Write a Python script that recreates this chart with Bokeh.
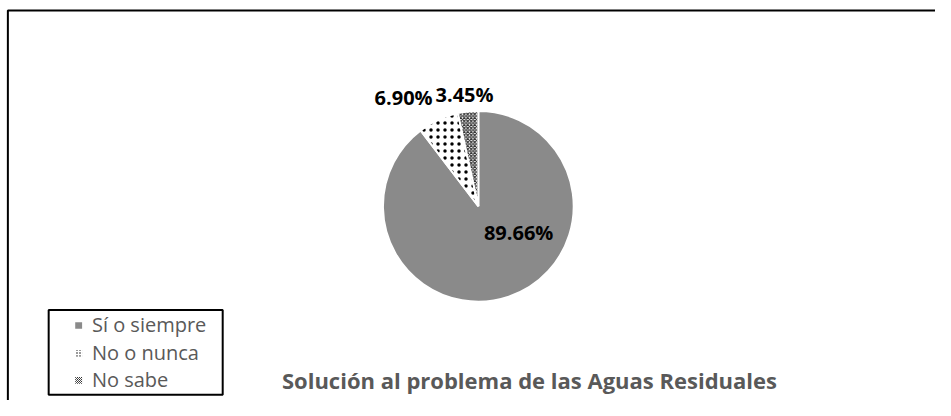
import numpy as np
from bokeh.plotting import figure
from bokeh.models import Range1d, ColumnDataSource
from bokeh.core.properties import value
from bokeh.embed import file_html
from bokeh.resources import INLINE

# ---- data ----
categories = ["Sí o siempre", "No o nunca", "No sabe"]
percentages = [89.66, 6.90, 3.45]
title_text = "Solución al problema de las Aguas Residuales"

# ---- styles ----
fills = ["#8a8a8a", "#ffffff", "#ffffff"]
hatches = [" ", "dot", "diagonal_cross"]
hatch_colors = ["#8a8a8a", "#000000", "#333333"]
hatch_scales = [8, 7, 3.5]
hatch_weights = [1, 1.8, 1.2]

W, H = 935, 400          # figure size (fits the window with the 8px margin)
RW, RH = 951, 416        # reference layout space


def py(y):
    return RH - y


p = figure(width=W, height=H, output_backend="svg", toolbar_location=None,
           x_range=Range1d(0, RW), y_range=Range1d(0, RH),
           x_axis_location=None, y_axis_location=None,
           min_border=0, outline_line_color=None)
p.grid.visible = False
p.background_fill_color = "white"
p.border_fill_color = "white"

# outer chart border (left and top visible)
p.line(x=[7.5, 7.5, RW], y=[0, py(10.5), py(10.5)], line_color="black", line_width=2)

# pie
frac = np.array(percentages) / sum(percentages)
cum = np.cumsum(frac)
start_cum = cum - frac
cx, cy, r = 486, py(214), 97
src = ColumnDataSource(dict(
    start=np.pi / 2 - 2 * np.pi * cum,
    end=np.pi / 2 - 2 * np.pi * start_cum,
    fill=fills, hatch=hatches, hcol=hatch_colors,
    hscale=hatch_scales, hweight=hatch_weights,
))
p.wedge(x=cx, y=cy, radius=r, start_angle="start", end_angle="end",
        fill_color="fill", hatch_pattern="hatch", hatch_color="hcol",
        hatch_scale="hscale", hatch_weight="hweight",
        line_color="white", line_width=2, source=src)

# data labels
label_dx = [41, -76, -14]
label_dy = [-27, 113, 116]
labels = [f"{v:.2f}%" for v in percentages]
p.text(x=[cx + d for d in label_dx], y=[cy + d for d in label_dy], text=labels,
       text_align="center", text_baseline="middle",
       text_font=value("Open Sans"), text_font_style="bold",
       text_font_size="20px", text_color="#000000")

# title
p.text(x=[538], y=[py(395)], text=[title_text],
       text_align="center", text_baseline="middle",
       text_font=value("Open Sans"), text_font_style="bold",
       text_font_size="22px", text_color="#595959")

# legend
p.quad(left=[49], right=[226], top=[py(322)], bottom=[py(410)],
       fill_color="white", line_color="black", line_width=2)
row_mid = [337, 366, 394]
p.rect(x=[79.5] * 3, y=[py(m + 1) for m in row_mid], width=7, height=7,
       fill_color=fills, hatch_pattern=hatches, hatch_color=hatch_colors,
       hatch_scale=[4, 3, 2], hatch_weight=1, line_color=None)
p.text(x=[93] * 3, y=[py(m) for m in row_mid], text=categories,
       text_align="left", text_baseline="middle",
       text_font=value("Open Sans"), text_font_size="20px", text_color="#595959")

open("out.html", "w").write(file_html(p, INLINE))
